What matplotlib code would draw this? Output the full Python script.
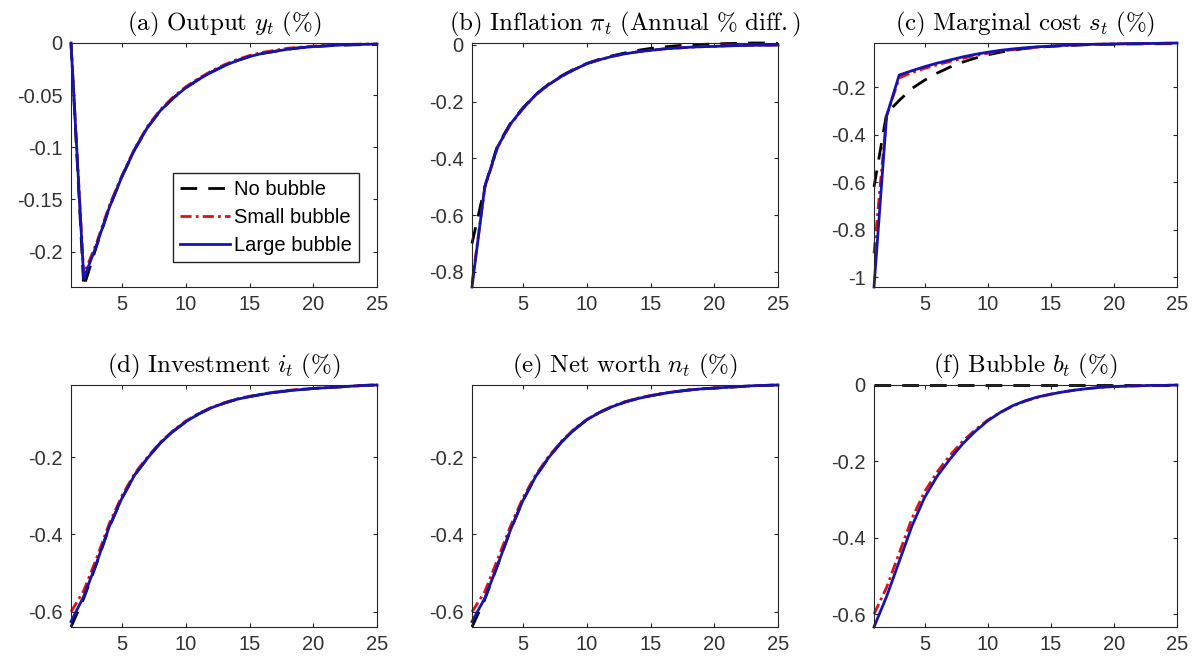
import numpy as np
import matplotlib
matplotlib.use('Agg')
import matplotlib.pyplot as plt

# Impulse responses, periods 1..25
t = np.arange(1, 26)

# (a) Output
out_none  = [0, -0.234, -0.195, -0.158, -0.128, -0.102, -0.081, -0.065, -0.053, -0.043, -0.035, -0.028, -0.022,
             -0.017, -0.013, -0.010, -0.008, -0.006, -0.0045, -0.0035, -0.0028, -0.0022, -0.0018, -0.0016, -0.0015]
out_small = [0, -0.222, -0.192, -0.156, -0.127, -0.101, -0.080, -0.064, -0.052, -0.042, -0.034, -0.027, -0.021,
             -0.016, -0.012, -0.009, -0.007, -0.005, -0.004, -0.003, -0.0022, -0.0017, -0.0013, -0.001, -0.001]
out_large = [0, -0.226, -0.194, -0.158, -0.128, -0.102, -0.081, -0.065, -0.053, -0.043, -0.035, -0.028, -0.022,
             -0.017, -0.013, -0.010, -0.008, -0.006, -0.0045, -0.0035, -0.0027, -0.002, -0.0016, -0.0013, -0.001]

# (b) Inflation
inf_none  = [-0.70, -0.50, -0.355, -0.278, -0.222, -0.175, -0.139, -0.110, -0.086, -0.066, -0.051, -0.039, -0.029,
             -0.020, -0.013, -0.008, -0.004, -0.001, 0.001, 0.003, 0.004, 0.005, 0.006, 0.006, 0.005]
inf_small = [-0.84, -0.505, -0.362, -0.282, -0.225, -0.177, -0.141, -0.112, -0.088, -0.067, -0.053, -0.041, -0.032,
             -0.025, -0.020, -0.015, -0.012, -0.009, -0.007, -0.006, -0.004, -0.003, -0.002, -0.002, -0.001]
inf_large = [-0.853, -0.50, -0.36, -0.28, -0.224, -0.176, -0.141, -0.112, -0.088, -0.067, -0.053, -0.041, -0.032,
             -0.025, -0.020, -0.015, -0.012, -0.009, -0.007, -0.006, -0.004, -0.003, -0.002, -0.002, -0.001]

# (c) Marginal cost
mc_none  = [-0.62, -0.31, -0.255, -0.205, -0.170, -0.140, -0.115, -0.094, -0.077, -0.063, -0.052, -0.043, -0.036,
            -0.031, -0.027, -0.024, -0.022, -0.020, -0.019, -0.018, -0.017, -0.017, -0.016, -0.016, -0.016]
mc_small = [-0.90, -0.32, -0.160, -0.138, -0.120, -0.105, -0.091, -0.078, -0.066, -0.056, -0.048, -0.041, -0.035,
            -0.030, -0.027, -0.024, -0.021, -0.019, -0.018, -0.017, -0.016, -0.015, -0.015, -0.014, -0.014]
mc_large = [-1.042, -0.32, -0.148, -0.130, -0.113, -0.098, -0.085, -0.072, -0.061, -0.052, -0.044, -0.038, -0.033,
            -0.029, -0.026, -0.023, -0.021, -0.019, -0.018, -0.017, -0.016, -0.015, -0.015, -0.014, -0.013]

# (d) Investment
inv_none  = [-0.639, -0.565, -0.476, -0.381, -0.306, -0.246, -0.203, -0.164, -0.134, -0.109, -0.089, -0.073, -0.061,
             -0.051, -0.044, -0.038, -0.033, -0.029, -0.026, -0.023, -0.021, -0.019, -0.017, -0.015, -0.014]
inv_small = [-0.600, -0.545, -0.462, -0.372, -0.300, -0.242, -0.200, -0.162, -0.132, -0.107, -0.088, -0.072, -0.060,
             -0.050, -0.043, -0.037, -0.032, -0.028, -0.025, -0.023, -0.021, -0.019, -0.017, -0.015, -0.014]
inv_large = [-0.625, -0.560, -0.474, -0.380, -0.306, -0.246, -0.203, -0.164, -0.134, -0.109, -0.089, -0.073, -0.061,
             -0.051, -0.044, -0.038, -0.033, -0.029, -0.026, -0.023, -0.021, -0.019, -0.017, -0.015, -0.014]

# (e) Net worth
nw_none  = [-0.639, -0.568, -0.480, -0.390, -0.312, -0.250, -0.202, -0.162, -0.130, -0.104, -0.085, -0.070, -0.058,
            -0.049, -0.042, -0.036, -0.031, -0.027, -0.024, -0.022, -0.020, -0.018, -0.016, -0.015, -0.014]
nw_small = [-0.600, -0.548, -0.465, -0.380, -0.305, -0.246, -0.199, -0.160, -0.128, -0.103, -0.084, -0.069, -0.057,
            -0.048, -0.041, -0.035, -0.031, -0.027, -0.024, -0.022, -0.020, -0.018, -0.016, -0.015, -0.014]
nw_large = [-0.625, -0.565, -0.480, -0.390, -0.312, -0.250, -0.202, -0.162, -0.130, -0.104, -0.085, -0.070, -0.058,
            -0.049, -0.042, -0.036, -0.031, -0.027, -0.024, -0.022, -0.020, -0.018, -0.016, -0.015, -0.014]

# (f) Bubble
bub_none  = [0.0] * 25
bub_small = [-0.600, -0.530, -0.440, -0.350, -0.280, -0.228, -0.185, -0.148, -0.118, -0.092, -0.072, -0.055, -0.042,
             -0.032, -0.024, -0.018, -0.013, -0.009, -0.006, -0.004, -0.003, -0.002, -0.001, -0.001, 0.0]
bub_large = [-0.634, -0.554, -0.462, -0.370, -0.295, -0.239, -0.195, -0.155, -0.122, -0.094, -0.072, -0.054, -0.041,
             -0.031, -0.024, -0.018, -0.013, -0.009, -0.006, -0.004, -0.003, -0.002, -0.001, -0.001, 0.0]

titles = [r'$\mathrm{(a)\ Output}\ y_t\ \mathrm{(\%)}$',
          r'$\mathrm{(b)\ Inflation}\ \pi_t\ \mathrm{(Annual\ \%\ diff.)}$',
          r'$\mathrm{(c)\ Marginal\ cost}\ s_t\ \mathrm{(\%)}$',
          r'$\mathrm{(d)\ Investment}\ i_t\ \mathrm{(\%)}$',
          r'$\mathrm{(e)\ Net\ worth}\ n_t\ \mathrm{(\%)}$',
          r'$\mathrm{(f)\ Bubble}\ b_t\ \mathrm{(\%)}$']
series = [(out_none, out_small, out_large), (inf_none, inf_small, inf_large),
          (mc_none, mc_small, mc_large), (inv_none, inv_small, inv_large),
          (nw_none, nw_small, nw_large), (bub_none, bub_small, bub_large)]
yticks = [[-0.2, -0.15, -0.1, -0.05, 0], [-0.8, -0.6, -0.4, -0.2, 0], [-1, -0.8, -0.6, -0.4, -0.2],
          [-0.6, -0.4, -0.2], [-0.6, -0.4, -0.2], [-0.6, -0.4, -0.2, 0]]
xticks = [5, 10, 15, 20, 25]
labels = ['No bubble', 'Small bubble', 'Large bubble']

plt.rcParams['mathtext.fontset'] = 'cm'
plt.rcParams['axes.unicode_minus'] = False
plt.rcParams['font.family'] = 'Liberation Sans'

fig = plt.figure(figsize=(11.97, 6.68), dpi=100)
W, H = 1197, 668
boxes = [(71, 43, 377, 287), (472, 43, 778, 287), (874, 43, 1177, 287),
         (71, 385, 377, 627), (472, 385, 778, 627), (874, 385, 1177, 627)]

for k in range(6):
    l, tp, r, b = boxes[k]
    ax = fig.add_axes([l / W, 1 - b / H, (r - l) / W, (b - tp) / H])
    none, small, large = series[k]
    ax.plot(t, none, color='black', lw=2, linestyle=(0, (6, 4)), label=labels[0], clip_on=False)
    ax.plot(t, small, color='#e01010', lw=2, linestyle=(0, (4, 1.5, 1, 1.5)), label=labels[1], clip_on=False)
    ax.plot(t, large, color='#1414b4', lw=2, label=labels[2], clip_on=False)
    allv = np.concatenate([none, small, large])
    ax.set_xlim(1, 25)
    ax.set_ylim(allv.min(), allv.max())
    ax.set_xticks(xticks)
    ax.set_yticks(yticks[k])
    ax.set_yticklabels(['%g' % v for v in yticks[k]])
    ax.tick_params(direction='in', length=3, width=0.8, top=True, right=True,
                   labelsize=14.5, colors='#262626', labelcolor='#333333', pad=6)
    for s in ax.spines.values():
        s.set_color('#262626')
        s.set_linewidth(0.8)
    ax.set_title(titles[k], fontsize=18, pad=9)
    if k == 0:
        ax.legend(loc='lower right', bbox_to_anchor=(0.941, 0.102), fontsize=14.5,
                  frameon=True, fancybox=False, edgecolor='#262626', framealpha=1,
                  borderaxespad=0, handlelength=2.5, handletextpad=0.2,
                  borderpad=0.35, labelspacing=0.45)

fig.savefig('out.png', dpi=100)
